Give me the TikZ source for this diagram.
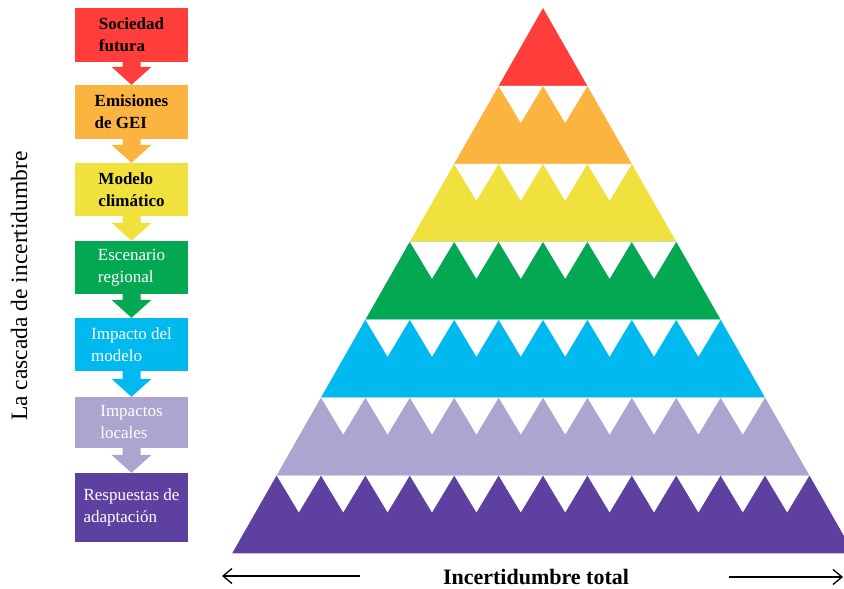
\documentclass[tikz,border=0pt]{standalone}
\usepackage{fontspec}
\setmainfont{Liberation Serif}
\usetikzlibrary{arrows.meta,calc}
\definecolor{cRed}{HTML}{FF3D3B}
\definecolor{cOrange}{HTML}{FCB440}
\definecolor{cYellow}{HTML}{F0E13F}
\definecolor{cGreen}{HTML}{05A852}
\definecolor{cCyan}{HTML}{00BAEF}
\definecolor{cLav}{HTML}{ABA5CF}
\definecolor{cPurple}{HTML}{5E40A0}
\begin{document}
\begin{tikzpicture}[x=1pt, y=-1pt, >={Straight Barb[length=9pt,width=15pt]}, line join=round,
    box/.style={minimum width=113pt, minimum height=54pt, inner sep=0pt, align=left},
    dark/.style={text=black, font=\fontsize{17}{22}\selectfont\bfseries},
    light/.style={text=white, font=\fontsize{17}{22}\selectfont}]
    \useasboundingbox (0,0) rectangle (844,589);
            \node[box, dark, fill=cRed] (sociedad) at (131.5,35) {Sociedad\\futura};
            \node[box, dark, fill=cOrange] (emisiones) at (131.5,112) {Emisiones\\de GEI};
            \node[box, dark, fill=cYellow, minimum height=53pt] (modelo) at (131.5,189.5) {Modelo\\climático};
            \node[box, light, fill=cGreen, minimum height=53pt] (escenario) at (131.5,267.5) {Escenario\\regional};
            \node[box, light, fill=cCyan, minimum height=53pt] (impacto) at (131.5,344.5) {Impacto del\\modelo};
            \node[box, light, fill=cLav, minimum height=51pt] (locales) at (131.5,422.5) {Impactos\\locales};
            \node[box, light, fill=cPurple, minimum height=69pt] (respuestas) at (131.5,507.5) {Respuestas de\\adaptación};
            \foreach \a/\b/\c in {sociedad/emisiones/cRed, emisiones/modelo/cOrange, modelo/escenario/cYellow,
                escenario/impacto/cGreen, impacto/locales/cCyan, locales/respuestas/cLav}
            \fill[\c] ($(\a.south)+(-9,0)$) -- ($(\a.south)+(9,0)$) -- ($(\b.north)+(9,-18)$)
                -- ($(\b.north)+(20,-18)$) -- (\b.north) -- ($(\b.north)+(-20,-18)$)
                -- ($(\b.north)+(-9,-18)$) -- cycle;
            \foreach \k/\c in {0/cRed,1/cOrange,2/cYellow,3/cGreen,4/cCyan,5/cLav,6/cPurple}
            \fill[\c, shift={(543,8)}] (-\k*44.4,\k*77.9) -- (\k*44.4,\k*77.9)
                -- (\k*44.4+44.4,\k*77.9+77.9) -- (-\k*44.4-44.4,\k*77.9+77.9) -- cycle;
            \foreach \k in {1,...,6}{
                \pgfmathtruncatemacro\n{2*\k}
                \foreach \j in {1,...,\n}
                \fill[white, shift={(543-\k*44.4+\j*44.4-44.4,8+\k*77.9)}] (0,0) -- (44.4,0) -- (22.2,37) -- cycle;
            }
            \node[rotate=90, font=\fontsize{23.5}{28}\selectfont] (cascada) at (19,286) {La cascada de incertidumbre};
            \node[font=\fontsize{22}{26}\selectfont\bfseries] (total) at (536,577) {Incertidumbre total};
            \coordinate (l0) at (222,576);
            \coordinate (l1) at (360,576);
            \coordinate (r0) at (729,577);
            \coordinate (r1) at (843,577);
            \draw[->, line width=1.3pt] (l1) -- (l0);
            \draw[->, line width=1.3pt] (r0) -- (r1);
    \end{tikzpicture}
\end{document}
